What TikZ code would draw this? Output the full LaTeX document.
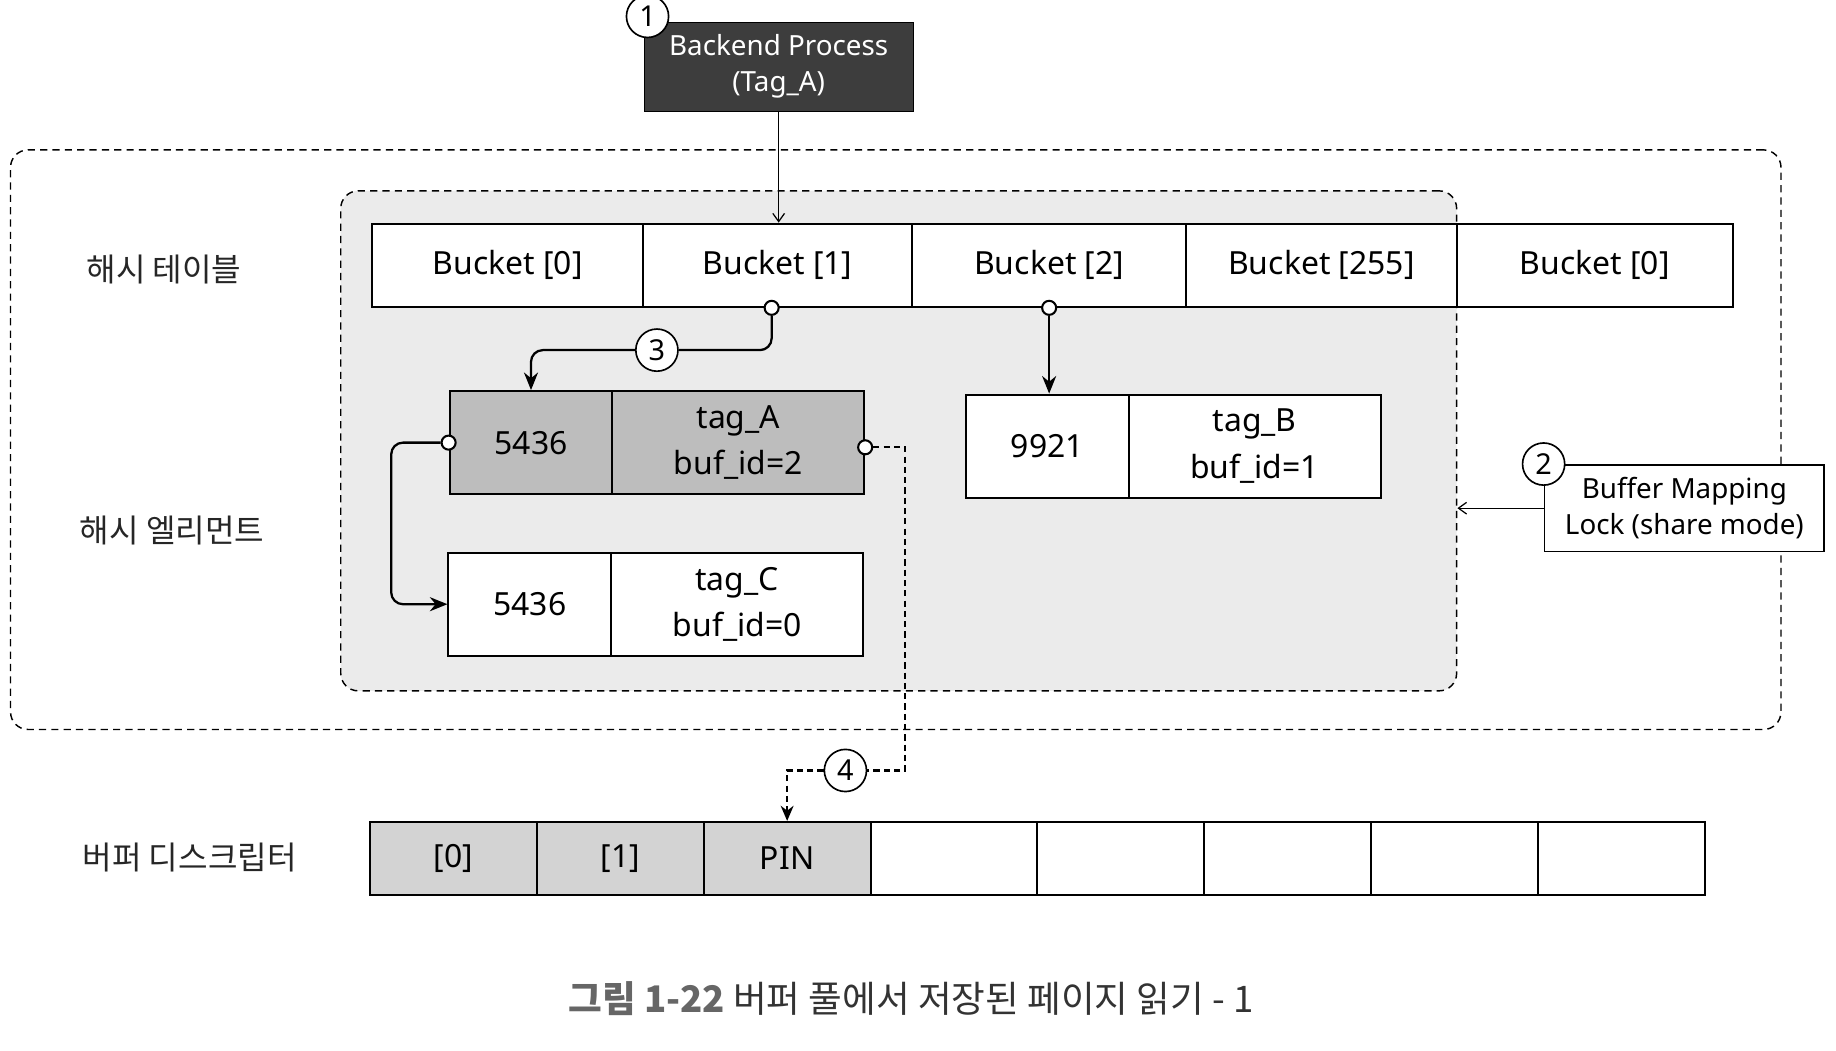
\documentclass[tikz,border=0pt]{standalone}
\usepackage{fontspec}
\setmainfont{Noto Sans}
\newfontfamily\kr{Noto Sans CJK KR}
\usetikzlibrary{arrows.meta}
\definecolor{bpgray}{HTML}{3D3D3D}
\definecolor{elemgray}{HTML}{BDBDBD}
\definecolor{descgray}{HTML}{D3D3D3}
\definecolor{poolgray}{HTML}{EBEBEB}
\begin{document}
\begin{tikzpicture}
        [x=0.2mm,y=-0.2mm,
         cell/.style={draw, line width=1pt, fill=white, inner sep=0pt, minimum height=14.2mm, font=\fontsize{15.5}{20}\selectfont},
         elem/.style={draw, line width=1pt, inner sep=0pt, minimum height=17.6mm, align=center, font=\fontsize{15.5}{22.5}\selectfont},
         num/.style={draw, circle, fill=white, inner sep=0pt, minimum size=7.2mm, line width=0.8pt, font=\fontsize{14}{14}\selectfont},
         port/.style={draw, circle, fill=white, inner sep=0pt, minimum size=2.4mm, line width=1pt},
         lbl/.style={font=\kr\fontsize{15.6}{15.6}\selectfont, text=black!85},
         conn/.style={line width=1.1pt, rounded corners=2mm, -{Stealth[length=3mm,width=2.4mm]}},
         thinarr/.style={line width=0.6pt, -{Straight Barb[length=1.4mm,width=2mm]}},
         dots/.style={line width=1pt, dash pattern=on 3pt off 2pt}]
      \useasboundingbox (0,0) rectangle (1568,897);

      \node[draw, line width=0.7pt, dash pattern=on 3.5pt off 2.5pt, rounded corners=3mm,
            minimum width=302.4mm, minimum height=99mm] (pool) at (765,375.5) {};
      \node[draw, fill=poolgray, line width=0.7pt, dash pattern=on 3.5pt off 2.5pt, rounded corners=3mm,
            minimum width=190.6mm, minimum height=85.4mm] (hashbox) at (767.5,376.5) {};

      \node[draw, fill=bpgray, text=white, align=center, minimum width=46mm, minimum height=15.2mm,
            font=\fontsize{13.5}{17.5}\selectfont] (bp) at (665,57) {Backend Process\\(Tag\_A)};
      \node[num] (n1) at (553,14) {1};

      \node[lbl] (lht) at (140,230) {해시 테이블};
      \node[lbl] (lhe) at (147,453) {해시 엘리먼트};
      \node[lbl] (lbd) at (162,732) {버퍼 디스크립터};

      \foreach \i/\x/\w/\t in {0/433.5/46.2/{Bucket [0]}, 1/664/46/{Bucket [1]}, 2/896/46.8/{Bucket [2]},
                               3/1128.5/46.2/{Bucket [255]}, 4/1362/47.2/{Bucket [0]}}
        \node[cell, minimum width=\w mm] (b\i) at (\x,226.5) {\t};

      \node[elem, fill=elemgray, minimum width=27.8mm] (akey) at (453.5,378) {5436};
      \node[elem, fill=elemgray, minimum width=43mm] (atag) at (630.5,378) {tag\_A\\buf\_id=2};
      \node[elem, fill=white, minimum width=27.8mm] (bkey) at (894.5,381) {9921};
      \node[elem, fill=white, minimum width=43mm] (btag) at (1071.5,381) {tag\_B\\buf\_id=1};
      \node[elem, fill=white, minimum width=27.8mm] (ckey) at (452.5,516) {5436};
      \node[elem, fill=white, minimum width=43mm] (ctag) at (629.5,516) {tag\_C\\buf\_id=0};

      \foreach \i/\t/\c in {0/{[0]}/descgray, 1/{[1]}/descgray, 2/PIN/descgray, 3//white,
                            4//white, 5//white, 6//white, 7//white}
        \node[cell, fill=\c, minimum width=28.5mm, minimum height=12.4mm] (d\i) at ({387.25+142.5*\i},733) {\t};

      \node[draw, line width=0.8pt, fill=white, align=center, minimum width=47.8mm, minimum height=14.8mm,
            font=\fontsize{13.5}{17.5}\selectfont] (lk) at (1438.5,434) {Buffer Mapping\\Lock (share mode)};
      \node[num] (n2) at (lk.north west) {2};

      \draw[thinarr] (bp) -- (bp |- b1.north);
      \draw[thinarr] (lk.west) -- (lk.west -| hashbox.east);

      \node[port] (p1) at ([xshift=-1mm]b1.south) {};
      \node[port] (p2) at (b2.south) {};
      \node[port] (pa) at (akey.west) {};
      \node[port] (pb) at ([yshift=-0.8mm]atag.east) {};
      \node[num] (n3) at (561,299) {3};
      \node[num] (n4) at (722,658) {4};
      \coordinate (bend) at (773,658);

      \draw[line width=1.1pt, rounded corners=2mm] (p1) |- (n3);
      \draw[conn] (n3) -| (akey.north);
      \draw[conn] (p2) -- (p2 |- bkey.north);
      \draw[conn] (pa) -- ++(-49,0) |- (ckey.west);
      \draw[dots] (pb) -| (bend) -- (n4);
      \draw[dots, -{Stealth[length=2.6mm,width=2.2mm]}] (n4) -| (d2.north);

      \node[font=\kr\fontsize{17.8}{17.8}\selectfont, text=black!80] (cap) at (778,853)
        {{\bfseries\color{black!60}그림 1-22} 버퍼 풀에서 저장된 페이지 읽기 - 1};
\end{tikzpicture}
\end{document}
